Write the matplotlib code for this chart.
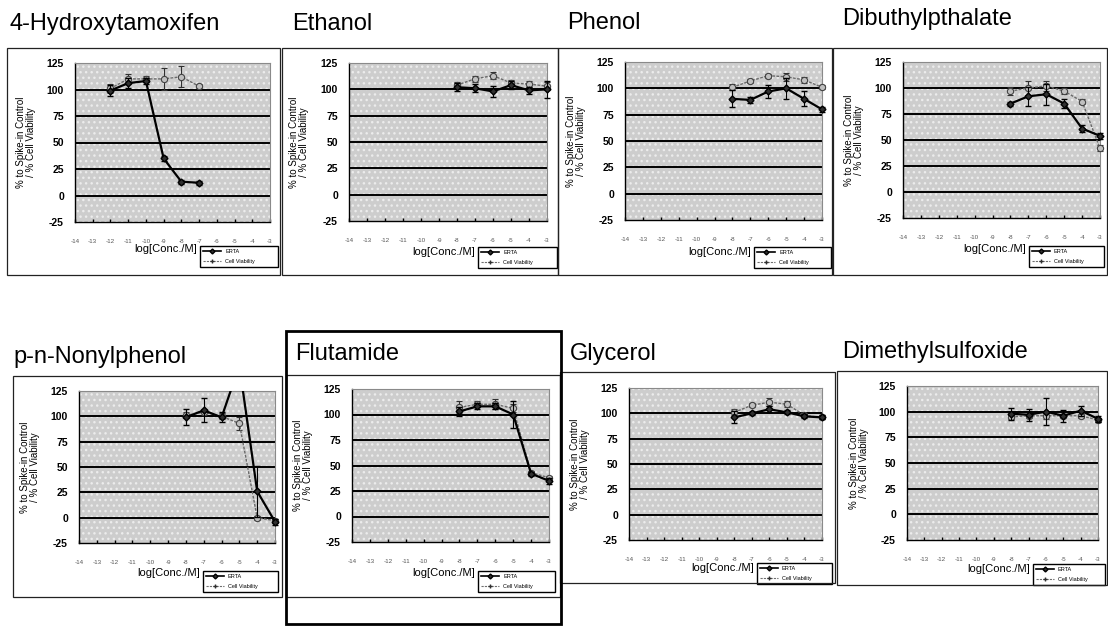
import matplotlib
matplotlib.use("Agg")
import matplotlib.pyplot as plt
from matplotlib.patches import Rectangle
from matplotlib.lines import Line2D

plt.rcParams["font.family"] = ["Liberation Sans", "DejaVu Sans"]
plt.rcParams["axes.unicode_minus"] = False

W, H = 1108, 626

# ---- data: log concentration (M) and responses (% of control) ----
titles = ["4-Hydroxytamoxifen", "Ethanol", "Phenol", "Dibuthylpthalate",
          "p-n-Nonylphenol", "Flutamide", "Glycerol", "Dimethylsulfoxide"]
x_ticks = [-14, -13, -12, -11, -10, -9, -8, -7, -6, -5, -4, -3]
y_ticks = [-25, 0, 25, 50, 75, 100, 125]
series_labels = ["ERTA", "Cell Viability"]

conc_oht = [-12, -11, -10, -9, -8, -7]
conc_std = [-8, -7, -6, -5, -4, -3]

oht_er = [99, 106, 108, 35, 13, 12]
oht_er_sd = [5, 5, 3, 2, 2, 2]
oht_cv = [101, 110, 110, 110, 112, 103]
oht_cv_sd = [4, 5, 3, 10, 10, 2]

ethanol_er = [102, 101, 98, 104, 99, 100]
ethanol_er_sd = [4, 4, 5, 4, 3, 8]
ethanol_cv = [104, 110, 113, 106, 105, 103]
ethanol_cv_sd = [3, 3, 3, 3, 3, 4]

phenol_er = [90, 89, 97, 100, 90, 80]
phenol_er_sd = [8, 3, 6, 10, 7, 2]
phenol_cv = [101, 107, 112, 111, 108, 101]
phenol_cv_sd = [3, 2, 2, 4, 3, 2]

dbp_er = [85, 92, 94, 85, 61, 54]
dbp_er_sd = [2, 9, 10, 4, 3, 3]
dbp_cv = [97, 100, 102, 97, 87, 42]
dbp_cv_sd = [4, 7, 5, 3, 2, 3]

nonyl_er = [99, 106, 99, 150, 26, -4]
nonyl_er_sd = [8, 12, 5, 0, 25, 3]
nonyl_cv = [101, 104, 100, 93, 0, -3]
nonyl_cv_sd = [3, 3, 3, 6, 2, 2]

flut_er = [103, 108, 108, 100, 42, 35]
flut_er_sd = [4, 3, 3, 13, 2, 3]
flut_cv = [107, 110, 110, 106, 43, 38]
flut_cv_sd = [6, 3, 5, 4, 2, 2]

glyc_er = [96, 100, 104, 101, 97, 96]
glyc_er_sd = [6, 2, 3, 2, 2, 2]
glyc_cv = [101, 108, 111, 109, 98, 96]
glyc_cv_sd = [3, 2, 4, 3, 2, 2]

dmso_er = [98, 97, 100, 96, 101, 93]
dmso_er_sd = [6, 6, 13, 6, 5, 3]
dmso_cv = [95, 96, 96, 96, 96, 92]
dmso_cv_sd = [2, 2, 3, 2, 2, 2]

panels = [
    (conc_oht, oht_er, oht_er_sd, oht_cv, oht_cv_sd),
    (conc_std, ethanol_er, ethanol_er_sd, ethanol_cv, ethanol_cv_sd),
    (conc_std, phenol_er, phenol_er_sd, phenol_cv, phenol_cv_sd),
    (conc_std, dbp_er, dbp_er_sd, dbp_cv, dbp_cv_sd),
    (conc_std, nonyl_er, nonyl_er_sd, nonyl_cv, nonyl_cv_sd),
    (conc_std, flut_er, flut_er_sd, flut_cv, flut_cv_sd),
    (conc_std, glyc_er, glyc_er_sd, glyc_cv, glyc_cv_sd),
    (conc_std, dmso_er, dmso_er_sd, dmso_cv, dmso_cv_sd),
]

# ---- layout (pixel boxes) ----
plot_boxes = [(75, 270, 63, 222), (349, 547, 63, 221), (625, 822, 62, 220),
              (903, 1100, 62, 218), (79, 275, 391, 543), (352, 549, 389, 542),
              (629, 822, 388, 540), (907, 1098, 386, 540)]
frames = [(7, 280, 48, 275), (282, 558, 48, 275), (558, 832, 48, 275),
          (833, 1107, 48, 275), (13, 282, 376, 597), (286, 560, 375, 597),
          (560, 835, 372, 583), (837, 1107, 371, 585)]
legend_boxes = [(200, 278, 242, 267), (478, 557, 246, 268), (754, 831, 246, 268),
                (1029, 1104, 242, 267), (203, 278, 565, 592), (478, 555, 565, 592),
                (757, 832, 562, 584), (1033, 1105, 563, 585)]
title_pos = [(9, 30), (292, 30), (567, 29), (842, 25),
             (13, 363), (295, 360), (570, 360), (842, 358)]


def fx(x):
    return x / W


def fy(y):
    return 1 - y / H


def clip_vertically(container, ax):
    """Clip a series at the top/bottom of the plot area only."""
    box = Rectangle((-0.06, 0), 1.12, 1, transform=ax.transAxes,
                    facecolor="none", edgecolor="none")
    artists = [container.lines[0]] + list(container.lines[1]) + list(container.lines[2])
    for art in artists:
        if art is not None:
            art.set_clip_path(box)


fig = plt.figure(figsize=(W / 100, H / 100), dpi=100)
fig.patch.set_facecolor("white")

for i, (title, data) in enumerate(zip(titles, panels)):
    conc, er, er_sd, cv, cv_sd = data
    x0, x1, y0, y1 = plot_boxes[i]
    ax = fig.add_axes([fx(x0), fy(y1), (x1 - x0) / W, (y1 - y0) / H])

    # stippled grey plot area
    ax.set_facecolor("#cdcdcd")
    ax.add_patch(Rectangle((0, 0), 1, 1, transform=ax.transAxes,
                           facecolor="none", edgecolor="#ececec",
                           hatch="...", linewidth=0, zorder=0))
    for g in [0, 25, 50, 75, 100]:
        ax.axhline(g, color="black", lw=1.4, zorder=1)

    cv_c = ax.errorbar(conc, cv, yerr=cv_sd, color="#6a6a6a", lw=1.0, ls=(0, (2, 1)),
                       marker="o", ms=4.5, mfc="#c0c0c0", mec="#444444", mew=0.8,
                       ecolor="#303030", elinewidth=0.8, capsize=2, zorder=3)
    er_c = ax.errorbar(conc, er, yerr=er_sd, color="black", lw=1.6,
                       marker="D", ms=3.5, mfc="#303030", mec="black",
                       ecolor="black", elinewidth=0.8, capsize=2, zorder=4)
    clip_vertically(cv_c, ax)
    clip_vertically(er_c, ax)

    ax.set_xlim(-14, -3)
    ax.set_ylim(-25, 125)
    ax.set_yticks(y_ticks)
    ax.set_yticklabels([str(v) for v in y_ticks], fontsize=7.5, fontweight="bold")
    ax.set_xticks(x_ticks)
    ax.set_xticklabels([str(v) for v in x_ticks], fontsize=4.5, color="#555555")
    ax.tick_params(axis="y", length=0, pad=8)
    ax.tick_params(axis="x", direction="in", length=2, width=1, pad=12)
    for s in ["left", "bottom"]:
        ax.spines[s].set_color("black")
        ax.spines[s].set_linewidth(1.0)
    for s in ["top", "right"]:
        ax.spines[s].set_color("#8a8a8a")
        ax.spines[s].set_linewidth(0.8)

    ax.set_ylabel("% to Spike-in Control\n/ % Cell Viability", fontsize=7,
                  linespacing=1.0)
    ax.yaxis.set_label_coords(-0.2, 0.5)

    # legend box below the x axis
    lx0, lx1, ly0, ly1 = legend_boxes[i]
    handles = [
        Line2D([], [], color="black", lw=1.2, marker="D", ms=2.5, mfc="#303030"),
        Line2D([], [], color="#707070", lw=0.8, ls=(0, (2, 1)), marker="+",
               ms=3, mec="#303030"),
    ]
    ax.legend(handles, series_labels, loc="lower left",
              bbox_to_anchor=(fx(lx0), fy(ly1), (lx1 - lx0) / W, (ly1 - ly0) / H),
              bbox_transform=fig.transFigure, mode="expand", fontsize=4,
              frameon=True, fancybox=False, edgecolor="black", framealpha=1,
              borderpad=0.5, labelspacing=0.9, handlelength=3.2,
              handletextpad=0.8, borderaxespad=0)
    ax.get_legend().get_frame().set_linewidth(1.0)

    fig.text(fx(lx0 - 3), fy((ly0 + ly1) / 2 - 5), "log[Conc./M]", fontsize=8,
             ha="right", va="center")

    # chart frame and title
    a0, a1, b0, b1 = frames[i]
    fig.add_artist(Rectangle((fx(a0), fy(b1)), (a1 - a0) / W, (b1 - b0) / H,
                             transform=fig.transFigure, facecolor="none",
                             edgecolor="#222222", lw=0.9))
    tx, ty = title_pos[i]
    fig.text(fx(tx), fy(ty), title, fontsize=17, ha="left", va="baseline")

# highlight box around the Flutamide chart
fig.add_artist(Rectangle((fx(286), fy(624)), (561 - 286) / W, (624 - 331) / H,
                         transform=fig.transFigure, facecolor="none",
                         edgecolor="black", lw=2.0))

fig.savefig("out.png", dpi=100)
